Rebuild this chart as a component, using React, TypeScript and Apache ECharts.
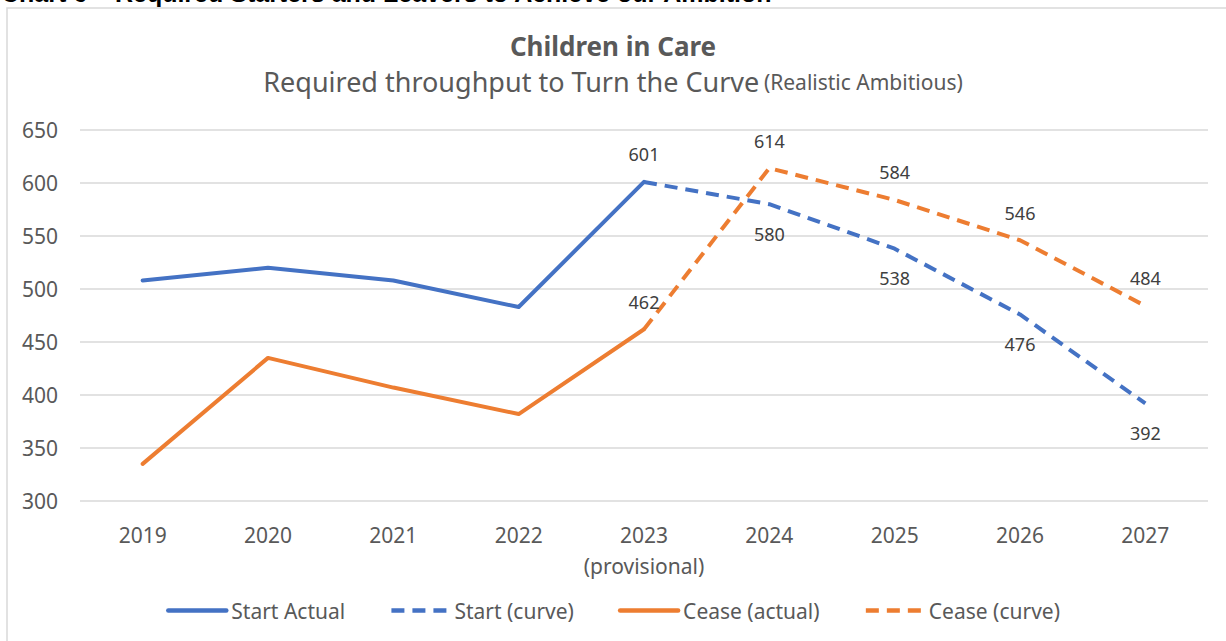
import React, { useEffect, useRef } from "react";
import * as echarts from "echarts";

const years = ["2019", "2020", "2021", "2022", "2023\n(provisional)", "2024", "2025", "2026", "2027"];
const startActual = [508, 520, 508, 483, 601, null, null, null, null];
const startCurve = [null, null, null, null, 601, 580, 538, 476, 392];
const ceaseActual = [335, 435, 407, 382, 462, null, null, null, null];
const ceaseCurve = [null, null, null, null, 462, 614, 584, 546, 484];
const yTicks = { min: 300, max: 650, interval: 50 };

const BLUE = "#4472C4";
const ORANGE = "#ED7D31";
const FONT = "'Noto Sans', 'Open Sans', sans-serif";
const TEXT = "#595959";
const LABEL = "#404040";

export default function App() {
  const ref = useRef<HTMLDivElement>(null);

  useEffect(() => {
    document.body.style.margin = "0";
    if (!ref.current) return;
    const chart = echarts.init(ref.current, null, { renderer: "svg" });

    // start-curve labels sit below the line, except the 2023 join point
    const startCurveData = startCurve.map((v, i) =>
      v === null
        ? null
        : { value: v, label: i === 4 ? { position: "top", distance: 18 } : { position: "bottom", distance: 20 } }
    );

    // transparent markers so the value labels have anchors
    const hiddenMarker = {
      symbol: "circle",
      symbolSize: 1,
      showSymbol: true,
      itemStyle: { color: "rgba(0,0,0,0)" },
    };

    chart.setOption({
      animation: false,
      backgroundColor: "#fff",
      textStyle: { fontFamily: FONT },
      graphic: [
        {
          type: "rect",
          shape: { x: 7, y: 8, width: 1400, height: 800 },
          style: { fill: "none", stroke: "#D9D9D9", lineWidth: 1.5 },
          silent: true,
        },
        {
          type: "text",
          x: 1,
          y: -20,
          style: {
            text: "Chart 6 – Required Starters and Leavers to Achieve our Ambition",
            font: "bold 25px 'Liberation Sans', Arial, sans-serif",
            fill: "#000",
          },
          silent: true,
        },
      ],
      title: [
        {
          text: "Children in Care",
          left: "center",
          top: 28,
          textStyle: { fontFamily: FONT, fontSize: 26, fontWeight: "bold", color: TEXT },
        },
        {
          text: "{a|Required throughput to Turn the Curve} {b|(Realistic Ambitious)}",
          left: "center",
          top: 63,
          textStyle: {
            fontWeight: "normal",
            rich: {
              a: { fontFamily: FONT, fontSize: 27, fontWeight: "normal", color: TEXT },
              b: { fontFamily: FONT, fontSize: 21, fontWeight: "normal", color: TEXT },
            },
          },
        },
      ],
      legend: {
        bottom: 15,
        left: "center",
        itemWidth: 58,
        itemHeight: 5,
        itemGap: 44,
        itemStyle: { opacity: 0 },
        lineStyle: { width: 4.5 },
        textStyle: { fontFamily: FONT, fontSize: 21, color: TEXT },
        data: ["Start Actual", "Start (curve)", "Cease (actual)", "Cease (curve)"],
      },
      grid: { left: 80, right: 18, top: 130, bottom: 140 },
      xAxis: {
        type: "category",
        data: years,
        boundaryGap: true,
        axisLine: { show: false },
        axisTick: { show: false },
        axisLabel: { interval: 0, fontFamily: FONT, fontSize: 21, color: TEXT, margin: 18, lineHeight: 31 },
      },
      yAxis: {
        type: "value",
        min: yTicks.min,
        max: yTicks.max,
        interval: yTicks.interval,
        axisLabel: { fontFamily: FONT, fontSize: 21, color: TEXT, margin: 22 },
        splitLine: { lineStyle: { color: "#D9D9D9", width: 1.5 } },
      },
      series: [
        {
          name: "Start Actual",
          type: "line",
          data: startActual,
          symbol: "none",
          color: BLUE,
          lineStyle: { color: BLUE, width: 4, cap: "round", join: "round" },
        },
        {
          name: "Start (curve)",
          type: "line",
          data: startCurveData,
          ...hiddenMarker,
          color: BLUE,
          lineStyle: { color: BLUE, width: 4, type: [13, 8] },
          label: { show: true, fontFamily: FONT, fontSize: 18, color: LABEL },
        },
        {
          name: "Cease (actual)",
          type: "line",
          data: ceaseActual,
          symbol: "none",
          color: ORANGE,
          lineStyle: { color: ORANGE, width: 4, cap: "round", join: "round" },
        },
        {
          name: "Cease (curve)",
          type: "line",
          data: ceaseCurve,
          ...hiddenMarker,
          color: ORANGE,
          lineStyle: { color: ORANGE, width: 4, type: [13, 8] },
          label: { show: true, position: "top", fontFamily: FONT, fontSize: 18, color: LABEL, distance: 18 },
        },
      ],
    });

    return () => chart.dispose();
  }, []);

  return <div ref={ref} style={{ width: 1226, height: 641 }} />;
}
